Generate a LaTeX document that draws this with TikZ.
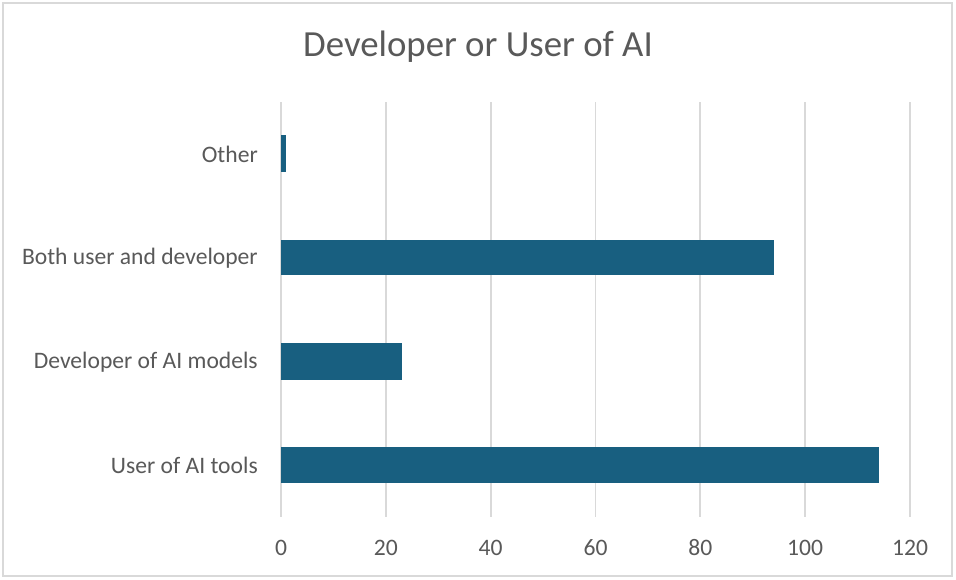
\documentclass[tikz,border=0pt]{standalone}
\usepackage{fontspec}
\setmainfont{Carlito}
\definecolor{barc}{HTML}{185F80}
\definecolor{txt}{HTML}{595959}
\definecolor{gridc}{HTML}{D9D9D9}
\begin{document}
\begin{tikzpicture}[x=0.75pt,y=-0.75pt,
  gridline/.style={draw=gridc,line width=1.4pt},
  barbox/.style={fill=barc,draw=none},
  catlabel/.style={anchor=east,text=txt,font=\fontsize{17.7}{19}\selectfont,inner sep=0pt},
  ticklabel/.style={anchor=center,text=txt,font=\fontsize{17.7}{19}\selectfont,inner sep=0pt},
  titlelabel/.style={anchor=center,text=txt,font=\fontsize{27.6}{30}\selectfont,inner sep=0pt}]
\useasboundingbox (0,0) rectangle (956,579);
\fill[white] (0,0) rectangle (956,579);
\draw[draw=gridc,line width=1.4pt] (3,3) rectangle (952,576);
\node[titlelabel] (title) at (478,47) {Developer or User of AI};
% gridlines and ticks
\foreach \v/\n in {0/0,20/20,40/40,60/60,80/80,100/100,120/120}{
  \draw[gridline] ({281+\v*5.2417},102) -- ({281+\v*5.2417},517);
  \node[ticklabel] (t\n) at ({281+\v*5.2417},548) {\v};
}
% bars
\fill[barc] (281,135) rectangle ({281+1*5.2417},172);
\fill[barc] (281,240) rectangle ({281+94*5.2417},275);
\fill[barc] (281,343) rectangle ({281+23*5.2417},380);
\fill[barc] (281,447) rectangle ({281+114*5.2417},483);
% category labels
\node[catlabel] (c1) at (258,154) {Other};
\node[catlabel] (c2) at (258,258) {Both user and developer};
\node[catlabel] (c3) at (258,362) {Developer of AI models};
\node[catlabel] (c4) at (258,465) {User of AI tools};
\end{tikzpicture}
\end{document}
